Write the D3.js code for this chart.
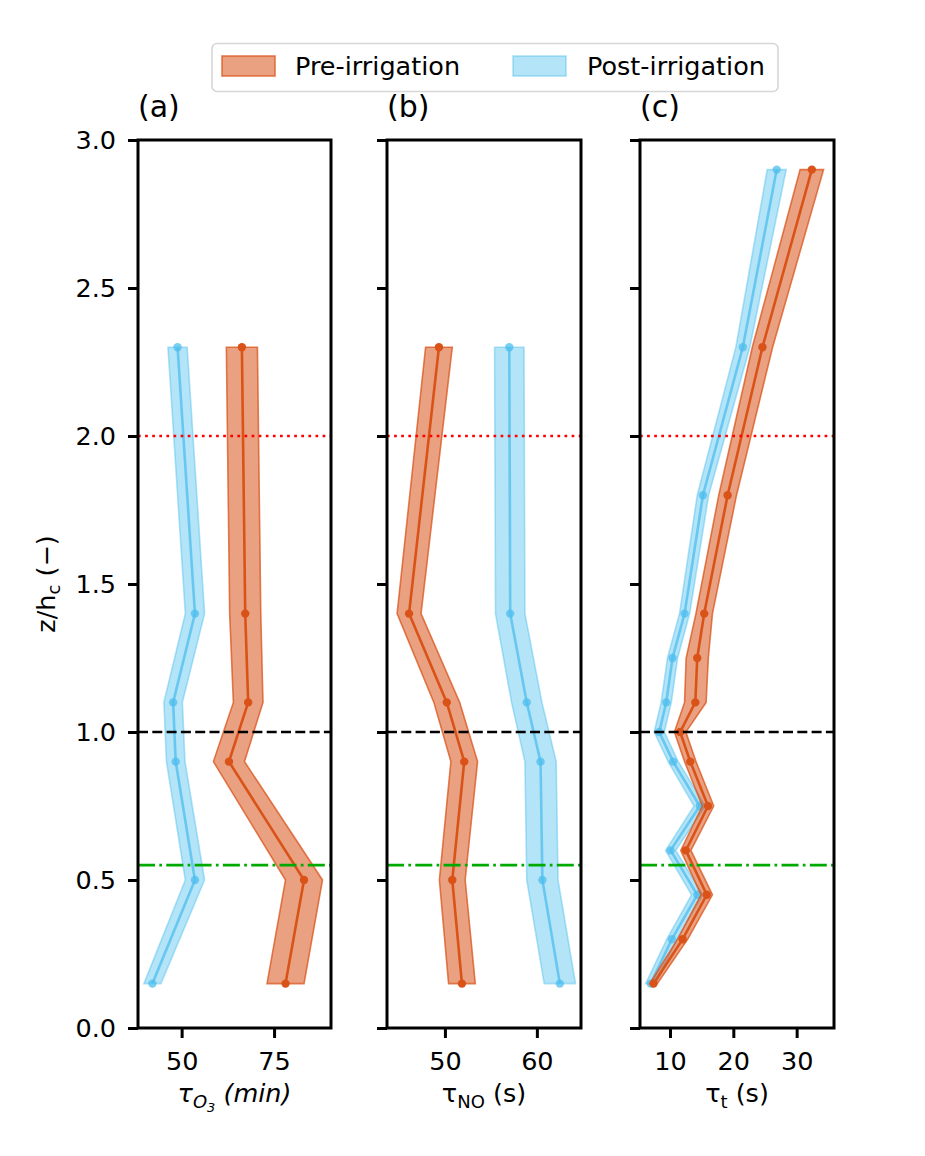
<!DOCTYPE html>
<html>
<head>
<meta charset="utf-8">
<script src="https://cdn.jsdelivr.net/npm/d3@7"></script>
<style>
  html, body { margin: 0; padding: 0; background: #fff; }
  svg { display: block; font-family: "DejaVu Sans", sans-serif; }
</style>
</head>
<body>
<svg id="chart" width="925" height="1156"></svg>
<script>
// ---------------- data ----------------
const zA = [0.15, 0.5, 0.9, 1.1, 1.4, 2.3];
const preA = [78.1, 83.1, 62.8, 68.0, 67.2, 66.3];
const preAerr = [5.0, 5.0, 4.2, 4.0, 4.2, 4.2];
const postA = [42.1, 53.6, 48.4, 47.7, 53.6, 48.9];
const postAerr = [2.3, 2.6, 2.5, 2.5, 2.6, 2.6];

const zB = [0.15, 0.5, 0.9, 1.1, 1.4, 2.3];
const preB = [51.85, 50.8, 52.1, 50.2, 46.1, 49.35];
const preBerr = [1.45, 1.4, 1.45, 1.4, 1.3, 1.45];
const postB = [62.5, 60.6, 60.4, 58.9, 57.1, 57.0];
const postBerr = [1.7, 1.7, 1.7, 1.65, 1.6, 1.6];

const zC = [0.15, 0.3, 0.45, 0.6, 0.75, 0.9, 1.0, 1.1, 1.25, 1.4, 1.8, 2.3, 2.9];
const preC = [7.4, 12.0, 15.8, 12.5, 16.0, 13.2, 11.6, 14.0, 14.3, 15.4, 19.1, 24.6, 32.4];
const preCerr = [0.6, 0.8, 0.9, 0.8, 0.9, 0.9, 0.9, 1.7, 1.75, 1.3, 1.4, 1.6, 1.85];
const postC = [6.95, 10.3, 14.3, 10.1, 14.7, 10.5, 8.3, 9.4, 10.4, 12.3, 15.2, 21.5, 26.85];
const postCerr = [0.8, 0.8, 0.9, 0.8, 0.9, 0.8, 0.8, 0.8, 0.8, 0.8, 0.9, 1.1, 1.5];

const xDomA = [38.2, 90.4], xDomB = [43.7, 64.8], xDomC = [5.26, 35.9];
const xTicksA = [50, 75], xTicksB = [50, 60], xTicksC = [10, 20, 30];
const yDomain = [0, 3];
const yTicks = [0, 0.5, 1.0, 1.5, 2.0, 2.5, 3.0];
const panelTitles = ["(a)", "(b)", "(c)"];
const seriesNames = ["Pre-irrigation", "Post-irrigation"];
const refLevels = [2.0, 1.0, 0.55];

// ---------------- styles ----------------
const PRE = "#D95319", POST = "#4DBEEE";
const FONT = 25.5;

const svg = d3.select("#chart");
const yTop = 140, yBot = 1028;
const y = d3.scaleLinear().domain(yDomain).range([yBot, yTop]);

const panels = [
  {x0: 138, x1: 331, dom: xDomA, ticks: xTicksA, z: zA, pre: preA, preE: preAerr, post: postA, postE: postAerr, title: panelTitles[0], lab: "a"},
  {x0: 387, x1: 581, dom: xDomB, ticks: xTicksB, z: zB, pre: preB, preE: preBerr, post: postB, postE: postBerr, title: panelTitles[1], lab: "b"},
  {x0: 640, x1: 834, dom: xDomC, ticks: xTicksC, z: zC, pre: preC, preE: preCerr, post: postC, postE: postCerr, title: panelTitles[2], lab: "c"}
];

panels.forEach((p, i) => {
  const x = d3.scaleLinear().domain(p.dom).range([p.x0, p.x1]);
  const g = svg.append("g");

  const mk = (vals, errs) => p.z.map((z, k) => ({z: z, v: vals[k], e: errs[k]}));
  const area = d3.area().y(d => y(d.z)).x0(d => x(d.v - d.e)).x1(d => x(d.v + d.e));
  const line = d3.line().x(d => x(d.v)).y(d => y(d.z));

  const drawSeries = (data, color, fillOp, edgeOp, lineOp) => {
    g.append("path").datum(data).attr("d", area)
      .attr("fill", color).attr("fill-opacity", fillOp)
      .attr("stroke", color).attr("stroke-opacity", edgeOp).attr("stroke-width", 1.6)
      .attr("stroke-linejoin", "miter");
    g.append("path").datum(data).attr("d", line)
      .attr("fill", "none").attr("stroke", color).attr("stroke-opacity", lineOp)
      .attr("stroke-width", 2.6);
    g.selectAll(null).data(data).enter().append("circle")
      .attr("cx", d => x(d.v)).attr("cy", d => y(d.z)).attr("r", 4.2)
      .attr("fill", color).attr("fill-opacity", lineOp);
  };
  drawSeries(mk(p.post, p.postE), POST, 0.42, 0.45, 0.75);
  drawSeries(mk(p.pre, p.preE), PRE, 0.55, 0.75, 1);

  // reference lines
  const refStyles = [
    {c: "#ff0000", dash: "2.7,4.4"},
    {c: "#000000", dash: "10,4.3"},
    {c: "#00aa00", dash: "17,4.3,2.7,4.3"}
  ];
  refLevels.forEach((lv, k) => {
    g.append("line").attr("x1", p.x0).attr("x2", p.x1)
      .attr("y1", y(lv)).attr("y2", y(lv))
      .attr("stroke", refStyles[k].c).attr("stroke-width", 2.7)
      .attr("stroke-dasharray", refStyles[k].dash);
  });

  // frame
  g.append("rect").attr("x", p.x0).attr("y", yTop)
    .attr("width", p.x1 - p.x0).attr("height", yBot - yTop)
    .attr("fill", "none").attr("stroke", "#000").attr("stroke-width", 3);

  // x axis
  const xAxis = g.append("g").attr("transform", `translate(0,${yBot})`)
    .call(d3.axisBottom(x).tickValues(p.ticks).tickSize(10).tickPadding(14).tickFormat(d3.format("d")));
  xAxis.select(".domain").remove();
  xAxis.selectAll(".tick line").attr("stroke", "#000").attr("stroke-width", 3);
  xAxis.selectAll(".tick text").attr("font-size", FONT).attr("fill", "#000")
    .attr("font-family", "DejaVu Sans");

  // y axis
  const yAxis = g.append("g").attr("transform", `translate(${p.x0},0)`)
    .call(d3.axisLeft(y).tickValues(yTicks).tickSize(10).tickPadding(12).tickFormat(d3.format(".1f")));
  yAxis.select(".domain").remove();
  yAxis.selectAll(".tick line").attr("stroke", "#000").attr("stroke-width", 3);
  if (i === 0) {
    yAxis.selectAll(".tick text").attr("font-size", FONT).attr("fill", "#000")
      .attr("font-family", "DejaVu Sans");
  } else {
    yAxis.selectAll(".tick text").remove();
  }

  // panel title
  svg.append("text").attr("x", p.x0).attr("y", 117).attr("font-size", 30)
    .attr("fill", "#000").text(p.title);

  // x label
  const cx = (p.x0 + p.x1) / 2;
  const t = svg.append("text").attr("x", cx).attr("y", 1102).attr("text-anchor", "middle")
    .attr("font-size", FONT).attr("fill", "#000");
  if (p.lab === "a") {
    t.attr("font-style", "italic");
    t.append("tspan").text("τ");
    t.append("tspan").attr("dy", 6).attr("font-size", 18).text("O");
    t.append("tspan").attr("dy", 4).attr("font-size", 13).text("3");
    t.append("tspan").attr("dy", -10).text(" (min)");
  } else if (p.lab === "b") {
    t.append("tspan").text("τ");
    t.append("tspan").attr("dy", 6).attr("font-size", 18).text("NO");
    t.append("tspan").attr("dy", -6).text(" (s)");
  } else {
    t.append("tspan").text("τ");
    t.append("tspan").attr("dy", 6).attr("font-size", 18).text("t");
    t.append("tspan").attr("dy", -6).text(" (s)");
  }
});

// y label
const yl = svg.append("text").attr("transform", "translate(55,584) rotate(-90)")
  .attr("text-anchor", "middle").attr("font-size", FONT).attr("fill", "#000");
yl.append("tspan").text("z/h");
yl.append("tspan").attr("dy", 5).attr("font-size", 18).text("c");
yl.append("tspan").attr("dy", -5).text(" (−)");

// legend
const lg = svg.append("g");
lg.append("rect").attr("x", 212).attr("y", 43.5).attr("width", 566).attr("height", 48)
  .attr("rx", 5).attr("fill", "#fff").attr("stroke", "#d6d6d6").attr("stroke-width", 1.6);
const legItems = [
  {name: seriesNames[0], color: PRE, px: 222, tx: 295, fo: 0.55, so: 0.75},
  {name: seriesNames[1], color: POST, px: 513, tx: 587, fo: 0.42, so: 0.45}
];
legItems.forEach(it => {
  lg.append("rect").attr("x", it.px).attr("y", 56).attr("width", 53).attr("height", 20)
    .attr("fill", it.color).attr("fill-opacity", it.fo)
    .attr("stroke", it.color).attr("stroke-opacity", it.so).attr("stroke-width", 1.6);
  lg.append("text").attr("x", it.tx).attr("y", 75).attr("font-size", FONT)
    .attr("fill", "#000").text(it.name);
});
</script>
</body>
</html>
